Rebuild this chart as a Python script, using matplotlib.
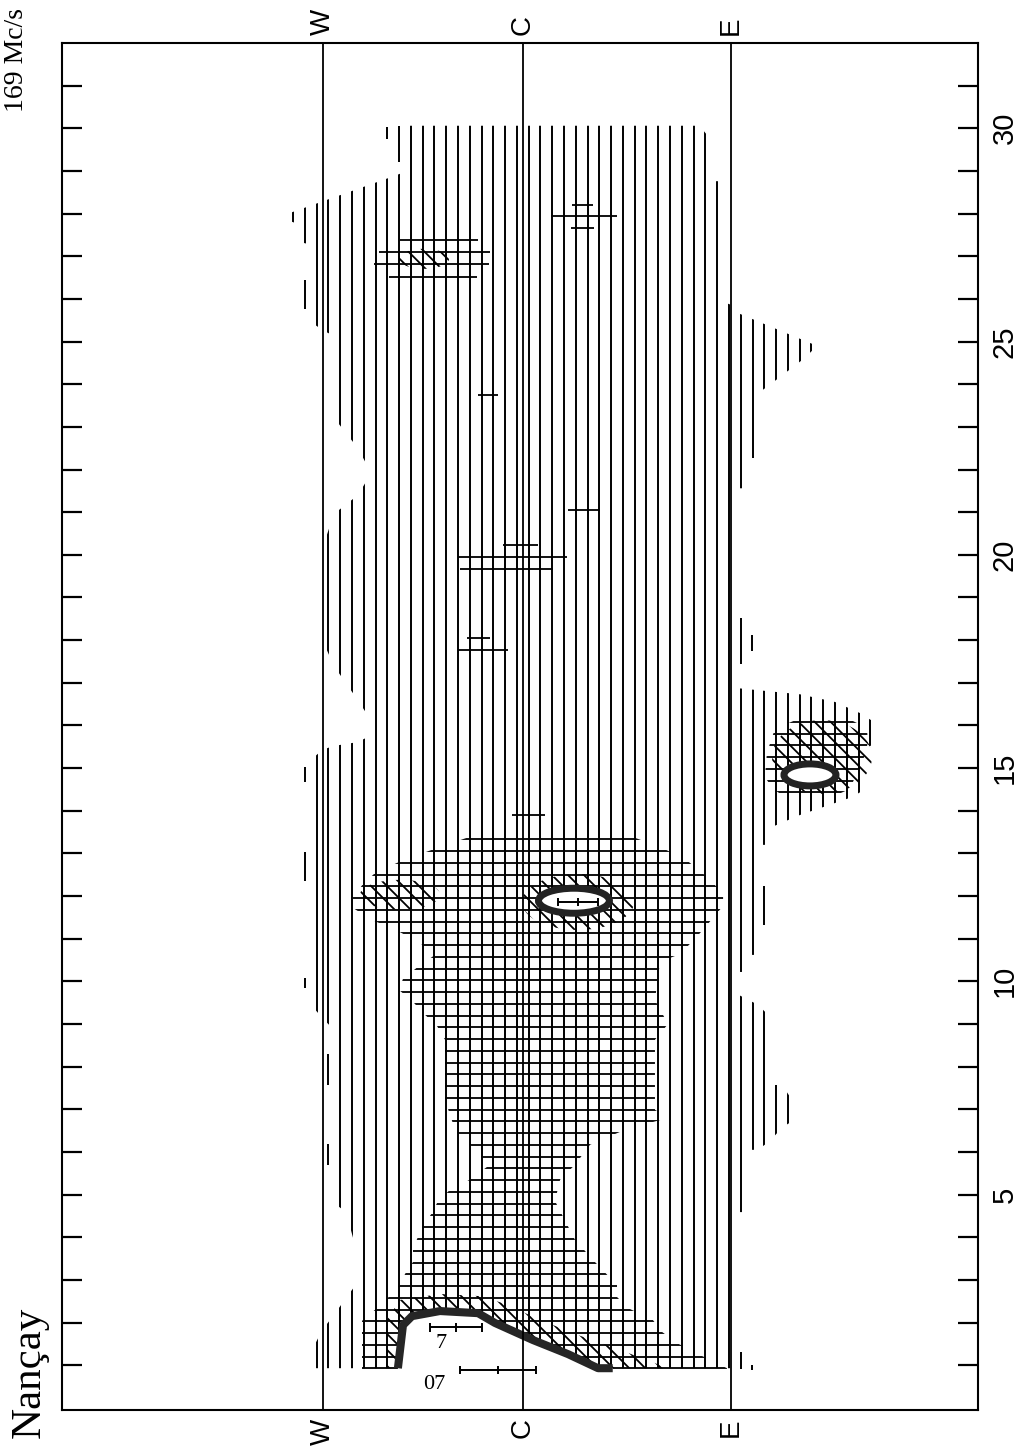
import numpy as np
import matplotlib
matplotlib.use("Agg")
import matplotlib.pyplot as plt
from matplotlib.collections import LineCollection
from matplotlib.path import Path
from matplotlib.patches import Ellipse, Polygon

# ---------------- data (position: W≈-1, C≈0, E≈+1 ; time in days) ----------------
LIMB_POS = [-0.99, -0.01, 1.01]
LIMB_LABELS = ["W", "C", "E"]
DAYS = list(range(1, 32))
LONG_TICK_DAYS = [2, 7, 12, 17, 22, 27]

# level 1 (vertical hatching) main region outline
MAIN_POS = [-0.588, 0.855, 0.912, 0.912, 0.971, 0.971, 1.028, 1.028, -1.049, -1.049,
            -0.993, -0.936, -0.877, -0.819, -0.819, -0.877, -0.936, -0.936, -0.993, -1.049,
            -1.049, -0.993, -0.936, -0.819, -0.762, -0.762, -0.819, -0.936, -0.993, -0.993,
            -0.936, -0.819, -0.762, -0.762, -0.819, -0.936, -0.936, -0.993, -1.049, -1.049,
            -1.108, -1.108, -1.167, -1.167, -0.642, -0.588]
MAIN_DAY = [30.06, 30.06, 29.73, 28.76, 28.76, 25.93, 25.83, 0.93, 0.93, 1.31,
            1.83, 2.18, 2.58, 2.95, 3.56, 4.59, 4.80, 8.86, 9.14, 9.45,
            15.19, 15.43, 15.52, 15.61, 15.75, 16.17, 16.59, 17.39, 18.00, 20.16,
            20.96, 21.40, 21.85, 21.99, 22.50, 23.21, 25.13, 25.27, 25.46, 27.27,
            27.34, 27.75, 27.85, 27.99, 28.88, 28.98]
# level 1 regions east of E
E25_POS = [1.028, 1.431, 1.373, 1.201, 1.152, 1.142, 1.083, 1.083, 1.028]
E25_DAY = [25.70, 24.90, 24.62, 23.99, 23.82, 22.27, 22.27, 21.56, 21.56]
E15_POS = [1.028, 1.348, 1.520, 1.642, 1.711, 1.711, 1.662, 1.662, 1.603, 1.495,
           1.348, 1.201, 1.201, 1.142, 1.142, 1.083, 1.083, 1.028]
E15_DAY = [16.88, 16.73, 16.55, 16.29, 16.08, 15.54, 15.49, 14.49, 14.32, 14.14,
           13.90, 13.60, 13.20, 13.20, 10.62, 10.62, 10.22, 10.22]
E07_POS = [1.028, 1.142, 1.201, 1.201, 1.260, 1.319, 1.319, 1.260, 1.201, 1.142, 1.083, 1.083, 1.028]
E07_DAY = [9.73, 9.45, 9.17, 7.57, 7.57, 7.15, 6.75, 6.57, 6.26, 6.05, 6.05, 4.59, 4.59]
# isolated level 1 strokes
VDASH_POS = [-1.079, -1.079, -1.079, -1.079, -0.964, -0.964, -0.675, -0.617, 1.057, 1.115, 1.173, 1.057, 1.115]
VDASH_D0 = [25.77, 14.68, 12.36, 9.85, 7.57, 5.70, 29.75, 29.21, 17.44, 17.74, 11.32, 0.91, 0.89]
VDASH_D1 = [26.44, 15.03, 13.03, 10.08, 8.29, 6.19, 30.03, 30.06, 18.51, 18.12, 12.23, 1.31, 1.00]

# level 2 (horizontal hatching) regions
CROSS_POS = [-0.270, 0.525, 0.525, 0.662, 0.784, 0.858, 0.917, 0.971, 0.971, 0.922,
             0.873, 0.819, 0.760, 0.662, 0.637, 0.701, 0.637, 0.637, 0.701, 0.490,
             0.319, 0.245, 0.172, 0.147, 0.245, 0.343, 0.451, 0.451, 0.505, 0.627,
             0.672, 0.745, 0.858, 0.990, 0.990, -0.799, -0.799, -0.725, -0.672, -0.613,
             -0.588, -0.549, -0.549, -0.529, -0.500, -0.456, -0.426, -0.368, -0.270, -0.172,
             -0.270, -0.343, -0.392, -0.392, -0.431, -0.500, -0.549, -0.618, -0.598, -0.525,
             -0.441, -0.515, -0.623, -0.750, -0.843, -0.843, -0.794, -0.735, -0.603, -0.441,
             -0.270]
CROSS_DAY = [13.53, 13.53, 13.39, 13.15, 12.87, 12.59, 12.33, 12.05, 11.77, 11.49,
             11.21, 10.93, 10.64, 10.46, 9.56, 9.00, 8.63, 6.99, 6.80, 6.52,
             6.17, 5.70, 5.35, 4.85, 3.94, 3.42, 2.88, 2.60, 2.34, 2.06,
             1.78, 1.52, 1.24, 0.93, 0.84, 0.84, 2.04, 2.34, 2.58, 2.88,
             3.14, 3.42, 3.72, 3.96, 4.26, 4.57, 4.85, 5.11, 5.35, 5.70,
             6.17, 6.52, 7.22, 8.63, 8.95, 9.26, 9.52, 9.80, 10.06, 10.34,
             10.62, 10.90, 11.18, 11.44, 11.72, 11.98, 12.28, 12.54, 12.83, 13.11,
             13.39]
C15_POS = [1.373, 1.559, 1.676, 1.681, 1.667, 1.618, 1.593, 1.446, 1.314, 1.216, 1.176, 1.186, 1.225]
C15_DAY = [16.22, 16.22, 15.94, 15.61, 15.31, 14.79, 14.51, 14.20, 14.20, 14.51, 14.79, 15.36, 15.92]
# isolated level 2 strokes
HDASH_DAY = [23.75, 21.05, 20.23, 19.95, 19.67, 18.05, 17.76, 13.90, 28.20, 27.95, 27.67,
             27.38, 27.10, 26.81, 26.51]
HDASH_X0 = [-0.230, 0.211, -0.108, -0.328, -0.319, -0.284, -0.328, -0.064, 0.230, 0.127, 0.225,
            -0.613, -0.716, -0.740, -0.667]
HDASH_X1 = [-0.132, 0.368, 0.064, 0.206, 0.137, -0.172, -0.083, 0.098, 0.333, 0.451, 0.338,
            -0.230, -0.172, -0.176, -0.235]

# level 3 (diagonal hatching)
BAND_POS = [-0.681, -0.672, -0.613, -0.417, -0.221, -0.098, 0.074, 0.270, 0.466, 0.701]
BAND_DAY = [0.93, 2.10, 2.53, 2.67, 2.62, 2.44, 2.06, 1.69, 1.36, 0.93]
L3_X = [0.260, 1.456, -0.613, -0.495]
L3_D = [11.86, 15.26, 12.03, 26.94]
L3_W = [0.549, 0.490, 0.392, 0.245]
L3_H = [1.31, 1.73, 0.70, 0.47]

# level 4 (heavy contours)
C4_POS = [-0.623, -0.598, -0.554, -0.417, -0.230, -0.147, 0.039, 0.211, 0.358, 0.430]
C4_DAY = [0.93, 1.94, 2.15, 2.27, 2.22, 1.99, 1.59, 1.26, 0.93, 0.93]
L4_X = [0.240, 1.397]
L4_D = [11.89, 14.84]
L4_W = [0.348, 0.255]
L4_H = [0.586, 0.516]

# position bars
BAR_DAY = [0.89, 1.89, 11.86]
BAR_LO = [-0.319, -0.466, 0.162]
BAR_MID = [-0.132, -0.338, 0.260]
BAR_HI = [0.054, -0.211, 0.358]
BAR_TEXT = ["07", "7"]
BAR_TEXT_X = [-0.446, -0.410]
BAR_TEXT_D = [0.54, 1.50]

# ---------------- figure ----------------
XLIM = (-2.2696, 2.2206)
YLIM = (-0.05, 32.0)
fig = plt.figure(figsize=(10.24, 14.51), dpi=100)
ax = fig.add_axes([62 / 1024, 41 / 1451, 916 / 1024, 1367 / 1451])
ax.set_xlim(*XLIM)
ax.set_ylim(*YLIM)


def compound(polys):
    paths = []
    for p in polys:
        p = np.asarray(p, float)
        paths.append(Path(np.vstack([p, p[:1]]), closed=True))
    return Path.make_compound_path(*paths)


def ellipse_poly(cx, cy, w, h, n=90):
    t = np.linspace(0, 2 * np.pi, n, endpoint=False)
    return np.column_stack([cx + w / 2 * np.cos(t), cy + h / 2 * np.sin(t)])


def hatch(segs, polys, lw):
    lc = LineCollection(segs, colors="black", linewidths=lw, zorder=2,
                        capstyle="butt")
    ax.add_collection(lc)
    lc.set_clip_path(compound(polys), ax.transData)


# vertical hatching (level 1)
vstep = 0.05775
xs = np.arange(-0.675 - 40 * vstep, XLIM[1], vstep)
vsegs = [[(x, YLIM[0]), (x, YLIM[1])] for x in xs]
lvl1 = [np.column_stack([MAIN_POS, MAIN_DAY]), np.column_stack([E25_POS, E25_DAY]),
        np.column_stack([E15_POS, E15_DAY]), np.column_stack([E07_POS, E07_DAY])]
hatch(vsegs, lvl1, 1.4)
ax.vlines(VDASH_POS, VDASH_D0, VDASH_D1, color="black", lw=1.4, zorder=2)

# horizontal hatching (level 2)
hstep = 0.27557
ds = np.arange(0.928 - 5 * hstep, YLIM[1], hstep)
hsegs = [[(XLIM[0], d), (XLIM[1], d)] for d in ds]
lvl2 = [np.column_stack([CROSS_POS, CROSS_DAY]), np.column_stack([C15_POS, C15_DAY])]
hatch(hsegs, lvl2, 1.3)
ax.hlines(HDASH_DAY, HDASH_X0, HDASH_X1, color="black", lw=1.3, zorder=2)

# diagonal hatching (level 3)
slope = (916 / (XLIM[1] - XLIM[0])) / (1367 / (YLIM[1] - YLIM[0]))
cs = np.arange(-15, 48, 0.375)
dsegs = [[(-2.5, c + slope * 2.5), (2.5, c - slope * 2.5)] for c in cs]
lvl3 = [np.column_stack([BAND_POS, BAND_DAY])] + [
    ellipse_poly(x, d, w, h) for x, d, w, h in zip(L3_X, L3_D, L3_W, L3_H)]
hatch(dsegs, lvl3, 1.3)

# level 4 contours
hollow = np.vstack([np.column_stack([C4_POS, C4_DAY]),
                    [[C4_POS[-1], 0.80], [C4_POS[0], 0.80]]])
ax.add_patch(Polygon(hollow, closed=True, facecolor="white", edgecolor="none", zorder=3))
ax.plot(C4_POS, C4_DAY, color="#262626", lw=5.8, solid_joinstyle="round",
        solid_capstyle="butt", zorder=4)
for x, d, w, h in zip(L4_X, L4_D, L4_W, L4_H):
    ax.add_patch(Ellipse((x, d), w, h, facecolor="white", edgecolor="#222222",
                         lw=5.0, zorder=4))

# W / C / E lines
ax.vlines(LIMB_POS, YLIM[0], YLIM[1], color="black", lw=1.3, zorder=5)

# position bars
ax.hlines(BAR_DAY, BAR_LO, BAR_HI, color="black", lw=1.4, zorder=6)
for arr in (BAR_LO, BAR_MID, BAR_HI):
    ax.vlines(arr, np.array(BAR_DAY) - 0.1, np.array(BAR_DAY) + 0.1,
              color="black", lw=1.4, zorder=6)
for s, x, d in zip(BAR_TEXT, BAR_TEXT_X, BAR_TEXT_D):
    ax.text(x, d, s, fontsize=16, family="Liberation Serif", ha="center",
            va="center", zorder=6)

# axes styling
for sp in ax.spines.values():
    sp.set_linewidth(1.5)
ax.set_yticks(DAYS)
ax.set_yticklabels([str(d) if d % 5 == 0 else "" for d in DAYS])
ax.set_yticks(LONG_TICK_DAYS, minor=True)
ax.tick_params(axis="y", which="major", direction="in", length=14.4, width=1.6,
               left=True, right=True, labelleft=False, labelright=True,
               labelrotation=90, pad=9, labelsize=21)
ax.tick_params(axis="y", which="minor", direction="in", length=23.8, width=1.6,
               left=True, right=True)
for t in ax.get_yticklabels():
    t.set_fontfamily("Liberation Sans")
    t.set_va("center")
ax.set_xticks(LIMB_POS)
ax.set_xticklabels(LIMB_LABELS)
ax.tick_params(axis="x", which="both", length=0, labeltop=True, labelbottom=True,
               labelrotation=90, pad=6, labelsize=20)
for t in ax.get_xticklabels() + [tk.label2 for tk in ax.xaxis.get_major_ticks()]:
    t.set_fontfamily("Liberation Sans")

fig.text(17 / 1024, 1 - 8 / 1451, "169 Mc/s", rotation=90, ha="center", va="top",
         fontsize=20, family="Liberation Serif")
fig.text(30 / 1024, 1 - 1372 / 1451, "Nançay", rotation=90, ha="center", va="center",
         fontsize=31, family="Liberation Serif")

fig.savefig("out.png", dpi=100, facecolor="white")
